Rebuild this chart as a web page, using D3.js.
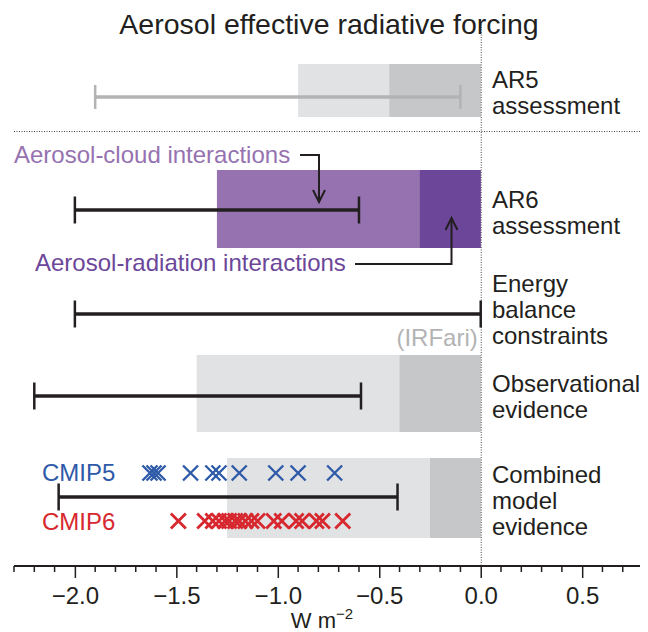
<!DOCTYPE html>
<html>
<head>
<meta charset="utf-8">
<script src="https://cdn.jsdelivr.net/npm/d3@7"></script>
<style>
  body { margin: 0; background: #fff; }
  svg text { font-family: "Liberation Sans", Arial, sans-serif; }
</style>
</head>
<body>
<svg id="chart" width="648" height="632"></svg>
<script>
// rows, top to bottom
var rowNames = [["AR5", "assessment"], ["AR6", "assessment"], ["Energy", "balance", "constraints"],
                ["Observational", "evidence"], ["Combined", "model", "evidence"]];
// shaded boxes: light part from boxLo to 0, darker part from boxMid to 0
var boxLo  = [-0.9, -1.3, null, -1.4, -1.25];
var boxMid = [-0.45, -0.3, null, -0.4, -0.25];
// whisker ranges
var rangeLo = [-1.9, -2.0, -2.0, -2.2, -2.08];
var rangeHi = [-0.1, -0.6, 0.0, -0.59, -0.41];
// model values
var cmip5 = [-1.63, -1.61, -1.59, -1.43, -1.32, -1.29, -1.19, -1.01, -0.90, -0.72];
var cmip6 = [-1.49, -1.36, -1.32, -1.29, -1.26, -1.24, -1.21, -1.19, -1.16, -1.13, -1.10,
             -1.02, -0.98, -0.91, -0.88, -0.81, -0.78, -0.68];
var tickVals = [-2.0, -1.5, -1.0, -0.5, 0.0, 0.5];

var svg = d3.select("#chart");
var x = d3.scaleLinear().domain([-2.3, 0.78]).range([14, 639]);

// layout of each row (pixels)
var boxTop = [64, 170, 0, 355, 458], boxBot = [117, 248, 0, 432, 538];
var barY = [97, 210, 314, 396, 497];
var labelY = [80, 200, 284, 384, 475];

var lightGrey = "#e1e2e3", darkGrey = "#c6c7c8";
var purpleL = "#9672b0", purpleD = "#6c4799";
var fills = [[lightGrey, darkGrey], [purpleL, purpleD], null, [lightGrey, darkGrey], [lightGrey, darkGrey]];
var fs = "24px";

// boxes
boxLo.forEach(function (lo, i) {
    if (lo === null) return;
    svg.append("rect")
        .attr("x", x(lo)).attr("y", boxTop[i])
        .attr("width", x(0) - x(lo)).attr("height", boxBot[i] - boxTop[i])
        .attr("fill", fills[i][0]);
    svg.append("rect")
        .attr("x", x(boxMid[i])).attr("y", boxTop[i])
        .attr("width", x(0) - x(boxMid[i])).attr("height", boxBot[i] - boxTop[i])
        .attr("fill", fills[i][1]);
});

// zero line and separator
svg.append("line")
    .attr("x1", x(0) + 0.5).attr("x2", x(0) + 0.5).attr("y1", 22).attr("y2", 566)
    .attr("stroke", "#444").attr("stroke-width", 1).attr("stroke-dasharray", "1,1.5");
svg.append("line")
    .attr("x1", 14).attr("x2", 640).attr("y1", 131.5).attr("y2", 131.5)
    .attr("stroke", "#444").attr("stroke-width", 1).attr("stroke-dasharray", "1,1.5");

// whiskers
rangeLo.forEach(function (lo, i) {
    var col = i === 0 ? "#b2b3b5" : "#231f20";
    var half = i === 0 ? 12 : 13.5;
    var g = svg.append("g").attr("stroke", col).attr("stroke-width", 3.5).attr("fill", "none");
    g.append("line").attr("x1", x(lo)).attr("x2", x(rangeHi[i])).attr("y1", barY[i]).attr("y2", barY[i]);
    g.append("line").attr("x1", x(lo)).attr("x2", x(lo)).attr("y1", barY[i] - half).attr("y2", barY[i] + half)
        .attr("stroke-width", 2.5);
    g.append("line").attr("x1", x(rangeHi[i])).attr("x2", x(rangeHi[i])).attr("y1", barY[i] - half).attr("y2", barY[i] + half)
        .attr("stroke-width", 2.5);
});

// crosses
function crosses(vals, y, col, w) {
    var s = 7.5;
    svg.append("g").selectAll("path").data(vals).enter().append("path")
        .attr("d", function (d) {
            var cx = x(d);
            return "M" + (cx - s) + "," + (y - s) + "L" + (cx + s) + "," + (y + s) +
                   "M" + (cx - s) + "," + (y + s) + "L" + (cx + s) + "," + (y - s);
        })
        .attr("stroke", col).attr("stroke-width", w).attr("fill", "none");
}
crosses(cmip5, 473, "#2e5aa8", 2.4);
crosses(cmip6, 521, "#d7282f", 2.8);

svg.append("text").attr("x", 42).attr("y", 481).attr("fill", "#2e5aa8")
    .style("font-size", fs).text("CMIP5");
svg.append("text").attr("x", 42).attr("y", 530).attr("fill", "#d7282f")
    .style("font-size", fs).text("CMIP6");

// row labels
rowNames.forEach(function (lines, i) {
    var t = svg.append("text").attr("x", 492).attr("y", labelY[i] + 8)
        .attr("fill", "#231f20").style("font-size", fs);
    lines.forEach(function (l, j) {
        t.append("tspan").attr("x", 492).attr("dy", j === 0 ? 0 : 26).text(l);
    });
});

svg.append("text").attr("x", x(0) - 3).attr("y", 346).attr("text-anchor", "end")
    .attr("fill", "#b3b3b3").style("font-size", fs).text("(IRFari)");

// interaction labels and arrows
svg.append("text").attr("x", 14).attr("y", 163).attr("fill", purpleL)
    .style("font-size", fs).text("Aerosol-cloud interactions");
svg.append("text").attr("x", 35).attr("y", 271).attr("fill", purpleD)
    .style("font-size", fs).text("Aerosol-radiation interactions");

var arr = svg.append("g").attr("stroke", "#231f20").attr("stroke-width", 2).attr("fill", "none");
arr.append("path").attr("d", "M300,155H319V202");
arr.append("path").attr("d", "M313,190L319,202L325,190");
arr.append("path").attr("d", "M355,264H451.5V218");
arr.append("path").attr("d", "M445.5,230L451.5,218L457.5,230");

// axis
var axis = d3.axisBottom(x).tickValues(tickVals).tickSize(12)
    .tickFormat(function (d) { return d3.format(".1f")(d).replace("-", "\u2212"); });
var ax = svg.append("g").attr("transform", "translate(0,566)").call(axis);
ax.select(".domain").attr("d", "M14,0H640").attr("stroke", "#231f20").attr("stroke-width", 2);
ax.selectAll(".tick line").attr("stroke", "#231f20").attr("stroke-width", 1.5);
ax.selectAll(".tick text").attr("fill", "#231f20").style("font-size", fs)
    .style("font-family", "Liberation Sans, Arial, sans-serif").attr("y", 38).attr("dy", 0);
var minor = d3.range(-23, 8).map(function (d) { return d / 10; })
    .filter(function (d) { return tickVals.indexOf(Math.round(d * 10) / 10) < 0; });
svg.append("g").selectAll("line").data(minor).enter().append("line")
    .attr("x1", function (d) { return x(d); }).attr("x2", function (d) { return x(d); })
    .attr("y1", 566).attr("y2", 572).attr("stroke", "#231f20").attr("stroke-width", 1.5);

var xl = svg.append("text").attr("x", 322).attr("y", 628).attr("text-anchor", "middle")
    .attr("fill", "#231f20").style("font-size", "22px");
xl.append("tspan").text("W m");
xl.append("tspan").attr("dy", -9).style("font-size", "15px").text("\u22122");

// title
svg.append("text").attr("x", 329).attr("y", 34).attr("text-anchor", "middle")
    .attr("fill", "#231f20").style("font-size", "28.5px").text("Aerosol effective radiative forcing");
</script>
</body>
</html>
